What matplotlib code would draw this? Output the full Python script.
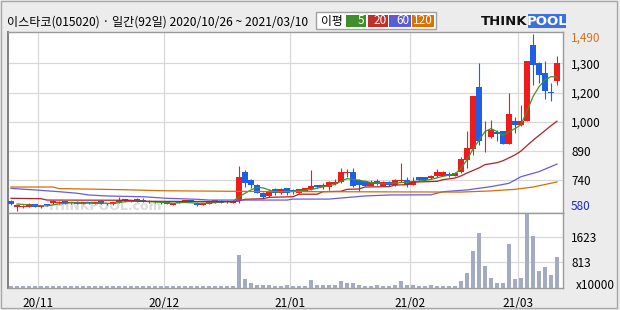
import numpy as np
import matplotlib
matplotlib.use('Agg')
import matplotlib.pyplot as plt
import matplotlib.transforms as mtransforms
from matplotlib.patches import Rectangle

plt.rcParams['font.family'] = ['Noto Sans CJK KR', 'DejaVu Sans']

#%% data
title = '이스타코(015020) · 일간(92일) 2020/10/26 ~ 2021/03/10'
month_labels = ['20/11', '20/12', '21/01', '21/02', '21/03']
month_start = [5, 26, 47, 67, 85]   # trading-day index of first day in month

opens = [633, 604, 600, 604, 618, 600, 618, 622, 622, 632, 622, 630, 620, 628, 620, 634,
         620, 618, 626, 642, 628, 642, 640, 626, 632, 622, 626, 614, 626, 628, 638, 624,
         613, 618, 625, 635, 628, 625,
         635, 784, 741, 716, 676, 659, 693, 676, 698, 690, 676, 686, 693, 713, 703, 707,
         721, 732, 776, 780, 741, 736, 712, 736, 712,
         731, 717, 734, 743, 717, 755, 755, 751, 760, 763, 774, 763, 781, 842, 902, 1219,
         955, 962, 988, 991, 927, 1043, 1025, 1046, 1436, 1342, 1291, 1193, 1248]
highs = [636, 615, 611, 622, 620, 611, 620, 640, 632, 634, 630, 632, 630, 630, 628, 636,
         624, 628, 655, 645, 640, 646, 646, 636, 634, 628, 628, 624, 628, 640, 640, 626,
         624, 630, 640, 638, 637, 632,
         813, 790, 745, 718, 680, 695, 698, 700, 700, 694, 696, 700, 792, 716, 726, 734,
         744, 804, 800, 804, 745, 740, 740, 746, 735,
         738, 748, 828, 757, 757, 758, 758, 766, 797, 786, 784, 782, 860, 991, 1175, 1342,
         1043, 1049, 999, 995, 1188, 1063, 1125, 1354, 1490, 1346, 1351, 1239, 1376]
lows = [614, 580, 598, 600, 602, 598, 610, 618, 620, 616, 620, 616, 618, 620, 618, 616,
        612, 614, 622, 630, 626, 630, 628, 622, 624, 618, 616, 612, 624, 626, 628, 606,
        611, 616, 622, 622, 623, 622,
        625, 707, 698, 674, 650, 655, 666, 670, 666, 668, 674, 684, 690, 700, 693, 690,
        716, 728, 759, 705, 686, 708, 708, 716, 708,
        712, 712, 730, 707, 714, 736, 738, 748, 756, 760, 758, 760, 778, 803, 871, 919,
        885, 958, 940, 926, 925, 982, 1020, 1044, 1231, 1239, 1157, 1148, 1227]
closes = [616, 612, 609, 616, 604, 609, 612, 632, 630, 618, 628, 618, 628, 622, 626, 618,
          616, 626, 640, 632, 637, 632, 632, 632, 626, 624, 618, 622, 624, 636, 630, 612,
          622, 628, 637, 625, 631, 630,
          755, 727, 716, 676, 655, 686, 676, 693, 676, 678, 693, 698, 710, 703, 713, 731,
          731, 780, 783, 712, 716, 712, 733, 720, 730,
          717, 743, 743, 717, 738, 741, 743, 763, 782, 782, 763, 779, 851, 905, 1171, 940,
          959, 999, 977, 926, 1080, 1022, 1046, 1354, 1333, 1282, 1200, 1186, 1342]

# volume, x10000 shares
volume = [40, 45, 40, 40, 35, 40, 40, 45, 40, 40, 35, 40, 40, 40, 45, 40,
          40, 40, 40, 40, 45, 40, 40, 40, 40, 40, 40, 40, 40, 40, 45, 40,
          45, 45, 45, 45, 45, 45,
          1060, 282, 152, 88, 88, 88, 55, 55, 88, 55, 55, 55, 250, 88, 88, 88,
          88, 217, 150, 150, 88, 55, 55, 88, 55,
          55, 88, 217, 88, 88, 55, 55, 88, 55, 55, 55, 55, 217, 467, 1179, 1763,
          693, 305, 143, 143, 1406, 272, 305, 2378, 1665, 531, 661, 402, 985]

# moving averages, sampled from the drawn lines (day index, price)
ma5_x = [1, 4, 6, 8, 10, 12, 15, 17, 19, 21, 23, 25, 27, 29, 31, 33, 35, 37, 38, 39, 40, 41,
         42, 43, 44, 46, 48, 50, 52, 54, 55, 56, 57, 58, 60, 62, 64, 66, 68, 70, 72, 74, 75,
         76, 77, 78, 79, 80, 81, 82, 83, 84, 85, 86, 87, 88, 89, 90, 91]
ma5_y = [618, 610, 608, 618, 624, 622, 622, 620, 630, 633, 630, 626, 622, 626, 622, 622,
         628, 630, 655, 673, 690, 703, 701, 690, 680, 682, 684, 692, 706, 718, 735, 748,
         744, 740, 728, 722, 725, 730, 735, 744, 760, 772, 800, 845, 900, 945, 990, 1005,
         990, 970, 988, 1005, 1025, 1095, 1170, 1220, 1255, 1272, 1270]
ma20_x = [0, 5, 6, 20, 21, 37, 38, 39, 42, 43, 47, 48, 51, 52, 55, 56, 58, 59, 63, 64, 66,
          67, 71, 72, 74, 75, 76, 78, 79, 81, 82, 83, 84, 85, 86, 87, 88, 89, 90, 91]
ma20_y = [647, 645, 638, 637, 632, 630, 633, 642, 645, 652, 655, 668, 668, 681, 683, 693,
          695, 705, 707, 715, 717, 730, 734, 743, 751, 762, 777, 803, 820, 830, 840, 855,
          870, 890, 918, 945, 970, 995, 1020, 1043]
ma60_x = [0, 4, 8, 11, 13, 16, 22, 26, 31, 33, 46, 47, 53, 56, 59, 63, 70, 72, 76, 80, 83,
          85, 88, 91]
ma60_y = [698, 690, 681, 673, 664, 659, 655, 647, 642, 638, 638, 643, 643, 651, 659, 664,
          665, 681, 690, 707, 724, 758, 784, 823]
ma120_x = [0, 7, 8, 19, 25, 41, 63, 75, 80, 84, 87, 91]
ma120_y = [705, 705, 697, 691, 686, 682, 680, 679, 685, 693, 705, 731]

price_ticks = [740, 890, 1040, 1190, 1340]
price_tick_labels = ['740', '890', '1,000', '1,200', '1,300']
vol_ticks = [813, 1623]
max_label, min_label = '1,490', '580'
ma_labels = ['5', '20', '60', '120']

#%% style
W, H = 620, 310
def fx(px):
    return px / W
def fy(py):
    return 1 - py / H

c_up, c_dn = '#f01c1c', '#1e5fe6'
ma_colors = ['#3c9628', '#b42020', '#6a5ae0', '#d86c00']
box_colors = ['#3f8f2a', '#c0302a', '#5b5bd6', '#dc7000']
grid_c = '#d8d8d8'
spine_c = '#9a9a9a'

fig = plt.figure(figsize=(6.2, 3.1), dpi=100, facecolor='#ececec')

ax = fig.add_axes([fx(7.5), fy(213), fx(563) - fx(7.5), fy(31.5) - fy(213)])
axv = fig.add_axes([fx(7.5), fy(287.5), fx(563) - fx(7.5), fy(213) - fy(287.5)], sharex=ax)

#%% candles
x = np.arange(len(closes))
o = np.array(opens)
c = np.array(closes)
cols = np.where(c >= o, c_up, c_dn)
ax.vlines(x, lows, highs, color=cols, lw=0.8, zorder=3)
ax.bar(x, np.maximum(np.abs(c - o), 3), bottom=np.minimum(o, c), width=0.86,
       color=cols, linewidth=0, zorder=4)

for mx, my, col in zip([ma5_x, ma20_x, ma60_x, ma120_x], [ma5_y, ma20_y, ma60_y, ma120_y], ma_colors):
    ax.plot(mx, my, color=col, lw=0.9, zorder=5)

# watermark
ax.text(6, 603, 'THINKPOOL.com', fontsize=9, fontweight='bold', color='#dcdcdc',
        family='DejaVu Sans', va='center', zorder=2)

ax.set_xlim(-0.58, 92)
ax.set_ylim(571.5, 1504)
ax.set_yticks(price_ticks)
ax.set_yticklabels(price_tick_labels)
ax.yaxis.tick_right()
ax.tick_params(axis='y', length=0, pad=6, labelsize=8.5)
ax.set_xticks([m - 0.5 for m in month_start])
ax.tick_params(axis='x', length=0, labelbottom=False)
ax.grid(True, color=grid_c, lw=0.9)
ax.set_axisbelow(True)
ax.set_facecolor('white')

trans = mtransforms.blended_transform_factory(ax.transAxes, ax.transData)
ax.text(1.0144, 1468, max_label, transform=trans, color='#d4741c', fontsize=8.5, va='center')
ax.text(1.0144, 604, min_label, transform=trans, color='#1a2ad0', fontsize=8.5, va='center')

#%% volume
axv.bar(x, volume, width=0.8, color='#a3abc3', linewidth=0, zorder=3)
axv.set_ylim(0, 2414)
axv.set_yticks(vol_ticks)
axv.set_yticklabels([str(v) for v in vol_ticks])
axv.yaxis.tick_right()
axv.tick_params(axis='y', length=0, pad=6, labelsize=8.5)
axv.set_xticks([m - 0.5 for m in month_start])
axv.set_xticklabels(month_labels)
axv.tick_params(axis='x', length=0, pad=7, labelsize=8.5)
axv.grid(True, color=grid_c, lw=0.9)
axv.set_axisbelow(True)
axv.set_facecolor('white')
fig.text(fx(576), fy(285.5), 'x10000', fontsize=8.5, va='center')

for a in (ax, axv):
    for s in a.spines.values():
        s.set_color(spine_c)
        s.set_linewidth(1.0)
    a.spines['left'].set_color('#808080')
    a.spines['left'].set_linewidth(1.4)

#%% header
fig.text(fx(7), fy(22.5), title, fontsize=8.7, va='center')

fig.patches.append(Rectangle((fx(316), fy(29.3)), fx(436) - fx(316), fy(12.3) - fy(29.3),
                             transform=fig.transFigure, facecolor='white', edgecolor='#a0a0a0', lw=1))
fig.text(fx(321), fy(21), '이평', fontsize=8.5, va='center')
box_edges = [(346, 366), (368, 388), (389, 411), (412, 434)]
for (l, r), lab, col in zip(box_edges, ma_labels, box_colors):
    fig.patches.append(Rectangle((fx(l), fy(26.7)), fx(r) - fx(l), fy(15) - fy(26.7),
                                 transform=fig.transFigure, facecolor=col, edgecolor='none'))
    fig.text(fx(r - 1.5), fy(21), lab, fontsize=8.5, color='white', va='center', ha='right')

# logo
fig.text(fx(481), fy(21.5), 'THINK', fontsize=9.5, fontweight='heavy', family='DejaVu Sans',
         color='#111111', va='center')
fig.patches.append(Rectangle((fx(528), fy(28)), fx(566) - fx(528), fy(14) - fy(28),
                             transform=fig.transFigure, facecolor='#3c6fe0', edgecolor='none'))
fig.text(fx(547), fy(21.5), 'POOL', fontsize=9.5, fontweight='heavy', family='DejaVu Sans',
         color='white', va='center', ha='center')

# outer frame
fig.patches.append(Rectangle((0.001, fy(307.5)), fx(616.5), fy(0.5) - fy(307.5),
                             transform=fig.transFigure, fill=False, edgecolor='#a8a8a8', lw=1))

fig.savefig('out.png', dpi=100, facecolor=fig.get_facecolor())
